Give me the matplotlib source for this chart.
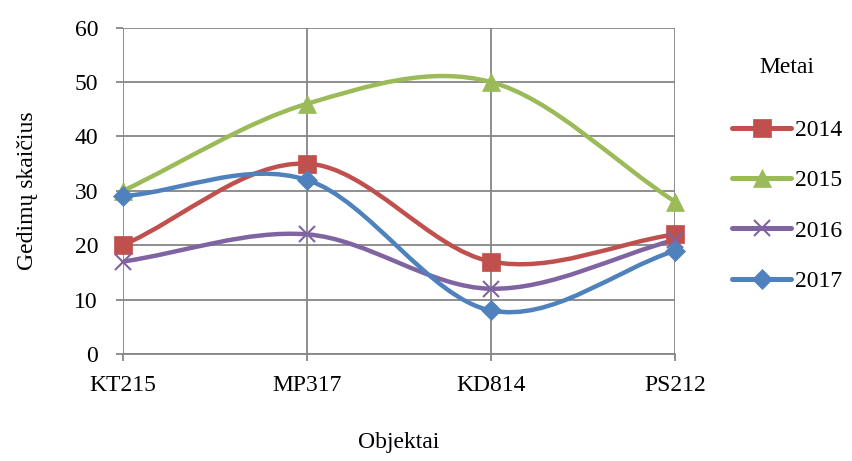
from matplotlib import pyplot as plt
from matplotlib.path import Path
from matplotlib.patches import PathPatch
from matplotlib.lines import Line2D
import numpy as np

plt.rcParams['font.family'] = ['Liberation Serif', 'DejaVu Serif']

# categories and yearly failure counts
objects = ["KT215", "MP317", "KD814", "PS212"]
years = ["2014", "2015", "2016", "2017"]
v2014 = [20, 35, 17, 22]
v2015 = [30, 46, 50, 28]
v2016 = [17, 22, 12, 21]
v2017 = [29, 32, 8, 19]

series = [v2014, v2015, v2016, v2017]
colors = ['#C0504D', '#9BBB59', '#8064A2', '#4F81BD']
markers = ['s', '^', 'x', 'D']
msizes = [12.5, 13.5, 12, 10.5]
fs = 17


def smooth_path(x, y):
    # cubic bezier through the points (Catmull-Rom style tangents)
    pts = np.column_stack([x, y]).astype(float)
    n = len(pts)
    tang = np.zeros_like(pts)
    for i in range(n):
        if i == 0:
            tang[i] = pts[1] - pts[0]
        elif i == n - 1:
            tang[i] = pts[-1] - pts[-2]
        else:
            tang[i] = (pts[i + 1] - pts[i - 1]) / 2
    verts = [pts[0]]
    codes = [Path.MOVETO]
    for i in range(n - 1):
        verts += [pts[i] + tang[i] / 3, pts[i + 1] - tang[i + 1] / 3, pts[i + 1]]
        codes += [Path.CURVE4] * 3
    return Path(verts, codes)


fig = plt.figure(figsize=(8.53, 4.61), dpi=100)
ax = fig.add_axes([0.1442, 0.2321, 0.6471, 0.7079])

x = np.arange(len(objects))
handles = []
for vals, c, m, ms, lab in zip(series, colors, markers, msizes, years):
    patch = PathPatch(smooth_path(x, vals), facecolor='none', edgecolor=c,
                      lw=3.2, capstyle='round', joinstyle='round', zorder=3)
    ax.add_patch(patch)
    mew = 1.5 if m == 'x' else 0.5
    ax.plot(x, vals, linestyle='none', marker=m, markersize=ms, color=c,
            markeredgecolor=c, markeredgewidth=mew, zorder=4, clip_on=False)
    handles.append(Line2D([], [], color=c, lw=3.6, marker=m, markersize=ms,
                          markeredgecolor=c, markeredgewidth=mew,
                          solid_capstyle='round', label=lab))

ax.set_xlim(0, 3)
ax.set_ylim(0, 60)
ax.set_xticks(x)
ax.set_xticklabels(objects, fontsize=fs)
ax.set_yticks(range(0, 61, 10))
ax.tick_params(axis='y', labelsize=fs, length=5, color='#868686', width=1.3, pad=13)
ax.tick_params(axis='x', length=5, color='#868686', width=1.3, pad=10)
ax.grid(True, color='#868686', lw=1.3)
ax.set_axisbelow(True)
for s in ['top', 'right', 'left']:
    ax.spines[s].set_visible(False)
ax.spines['bottom'].set_color('#868686')
ax.spines['bottom'].set_linewidth(1.3)

ax.set_ylabel("Gedimų skaičius", fontsize=fs, labelpad=26)
ax.set_xlabel("Objektai", fontsize=fs, labelpad=26)

leg = ax.legend(handles=handles, title="Metai", loc='upper left',
                bbox_to_anchor=(1.087, 0.94), frameon=False, fontsize=fs,
                title_fontsize=fs, handlelength=2.5, handletextpad=0.15,
                labelspacing=1.22, borderaxespad=0)
leg._legend_box.sep = 30
leg._legend_box.align = 'center'

plt.savefig('out.png', dpi=100)
